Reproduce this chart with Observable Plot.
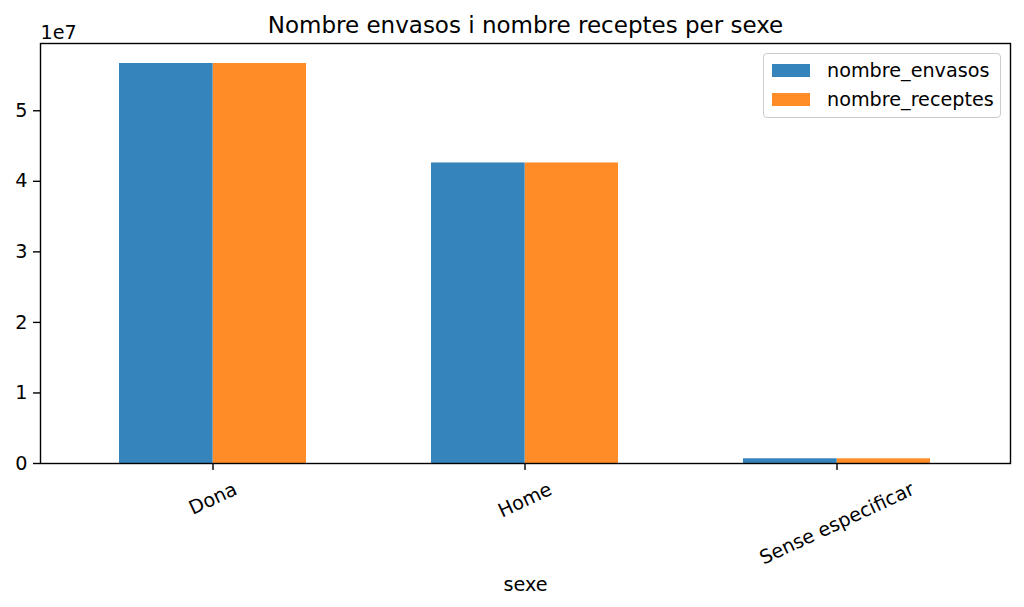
<!DOCTYPE html>
<html>
<head>
<meta charset="utf-8">
<script src="https://cdn.jsdelivr.net/npm/d3@7"></script>
<script src="https://cdn.jsdelivr.net/npm/@observablehq/plot@0.6"></script>
<style>
  html, body { margin: 0; padding: 0; background: #fff; }
  #wrap { position: relative; width: 1024px; height: 607px; font-family: "DejaVu Sans", sans-serif; }
  #legend { position: absolute; left: 763px; top: 53px; width: 236px; height: 63px;
    border: 1px solid #cccccc; border-radius: 4px; background: rgba(255,255,255,0.8); }
  .item { position: absolute; left: 0; height: 24px; width: 100%; }
  .sw { position: absolute; left: 8px; width: 38px; height: 13px; }
  .lb { position: absolute; left: 63px; font-size: 19.2px; line-height: 19px; color: #000; white-space: nowrap; }
</style>
</head>
<body>
<div id="wrap"></div>
<script>
// ---- data ----
const categories = ["Dona", "Home", "Sense especificar"];
const nombreEnvasos = [56700000, 42600000, 670000];
const nombreReceptes = [56700000, 42600000, 670000];
const seriesNames = ["nombre_envasos", "nombre_receptes"];
const seriesColors = ["#1f77b4", "#ff7f0e"];
const yTicks = [0, 10000000, 20000000, 30000000, 40000000, 50000000];
const titleText = "Nombre envasos i nombre receptes per sexe";
const xLabel = "sexe";
const yExponent = "1e7";

const data = categories.map((c, i) => ({sexe: c, nombre_envasos: nombreEnvasos[i], nombre_receptes: nombreReceptes[i]}));

// ---- layout ----
const W = 1024, H = 607, mL = 40, mR = 14, mT = 43, mB = 144;
const FS = 19.2;
const pIn = 0.4, pOut = 0.25;
const step = (W - mL - mR) / (categories.length - pIn + 2 * pOut);
const bw = step * (1 - pIn);
const yMax = d3.max([...nombreEnvasos, ...nombreReceptes]) * 1.05;

const ctx = document.createElement("canvas").getContext("2d");
ctx.font = FS + "px 'DejaVu Sans'";
const s25 = Math.sin(25 * Math.PI / 180), c25 = Math.cos(25 * Math.PI / 180);
const labelMarks = categories.map(c => {
  const w = ctx.measureText(c).width;
  const dy = 14.5 + (w * s25 + FS * 1.17 * c25) / 2;
  return Plot.text([c], {x: d => d, frameAnchor: "bottom", dy, rotate: -25,
    textAnchor: "middle", lineAnchor: "middle", fontSize: FS, fill: "black"});
});

const chart = Plot.plot({
  width: W, height: H,
  marginLeft: mL, marginRight: mR, marginTop: mT, marginBottom: mB,
  style: {fontFamily: "DejaVu Sans", fontSize: FS + "px", background: "white", color: "black"},
  x: {type: "band", domain: categories, paddingInner: pIn, paddingOuter: pOut, axis: null, label: null},
  y: {domain: [0, yMax], axis: null, label: null},
  marks: [
    Plot.barY(data, {x: "sexe", y: seriesNames[0], fill: seriesColors[0], fillOpacity: 0.9, insetRight: bw / 2 - 0.6}),
    Plot.barY(data, {x: "sexe", y: seriesNames[1], fill: seriesColors[1], fillOpacity: 0.9, insetLeft: bw / 2}),
    Plot.frame({stroke: "black", strokeWidth: 1.4}),
    Plot.axisY({ticks: yTicks, tickSize: 7, tickPadding: 6, tickFormat: d => d / 1e7, fontSize: FS, strokeWidth: 1.4, label: null}),
    Plot.axisX({tickSize: 7, tickFormat: () => "", strokeWidth: 1.4, label: null}),
    ...labelMarks,
    Plot.text([titleText], {frameAnchor: "top", dy: -18, fontSize: 23, lineAnchor: "middle", fill: "black"}),
    Plot.text([yExponent], {frameAnchor: "top-left", dy: -11, dx: 0, textAnchor: "start", lineAnchor: "middle", fontSize: FS, fill: "black"}),
    Plot.text([xLabel], {frameAnchor: "bottom", dy: 121, lineAnchor: "middle", fontSize: FS, fill: "black"})
  ]
});

const wrap = document.getElementById("wrap");
wrap.appendChild(chart);

const legend = document.createElement("div");
legend.id = "legend";
const tops = [9.5, 38.5];
seriesNames.forEach((name, i) => {
  const item = document.createElement("div");
  item.className = "item";
  item.style.top = tops[i] + "px";
  const sw = document.createElement("div");
  sw.className = "sw";
  sw.style.background = seriesColors[i];
  sw.style.opacity = 0.9;
  const lb = document.createElement("div");
  lb.className = "lb";
  lb.style.top = "-3px";
  lb.textContent = name;
  item.appendChild(sw);
  item.appendChild(lb);
  legend.appendChild(item);
});
wrap.appendChild(legend);
</script>
</body>
</html>
